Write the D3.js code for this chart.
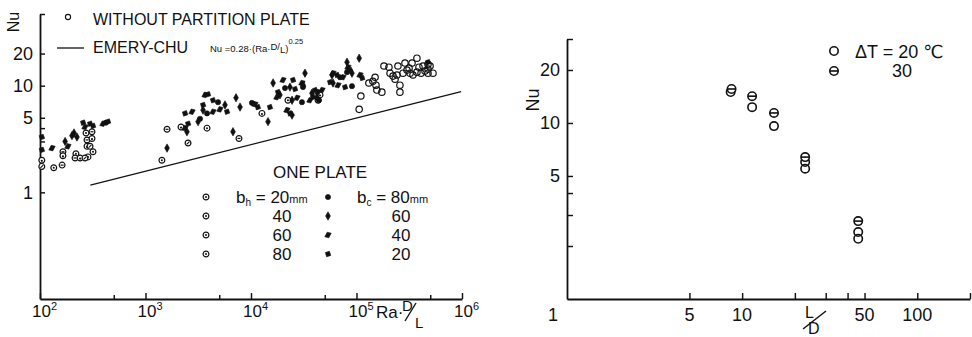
<!DOCTYPE html>
<html>
<head>
<meta charset="utf-8">
<script src="https://cdn.jsdelivr.net/npm/d3@7"></script>
<style>
  html, body { margin: 0; padding: 0; background: #fff; }
  svg { display: block; }
  text { font-family: "Liberation Sans", Arial, "DejaVu Sans", sans-serif; fill: #111; }
</style>
</head>
<body>
<svg id="fig" width="972" height="337"></svg>
<script>
// ---- Left panel: Nu against Ra·D/L ----
// Without partition plate (open circles)
const withoutPlate = [
  [110000,8.0],[106000,6.0],[131000,10.6],[143000,11.0],[150000,12.0],[153000,10.1],
  [156000,9.1],[174000,8.7],[182000,15.3],[203000,14.9],[208000,13.1],[222000,12.3],
  [232000,11.5],[242000,12.6],[247000,15.3],[258000,10.1],[258000,8.7],[276000,13.1],
  [288000,16.3],[301000,14.0],[315000,14.6],[322000,13.1],[336000,16.3],[343000,12.6],
  [374000,13.4],[374000,18.1],[391000,14.9],[409000,13.1],[427000,15.3],[446000,13.7],
  [476000,14.3],[476000,15.9],[498000,15.3],[476000,13.1],[531000,13.1]
];
// One plate, hot-side width b_h (circles with a mark inside)
const bh20 = [[273,3.6],[318,2.4],[219,2.3],[285,2.15],[135,1.7],[1430,2.0],[3830,4.0],[22400,7.3]];
const bh40 = [[311,3.7],[279,3.1],[215,2.1],[165,2.4],[162,1.8],[1600,3.9],[7690,3.2],[43200,7.3]];
const bh60 = [[311,3.2],[279,2.7],[240,2.1],[165,2.2],[104,2.0],[2170,4.1],[12700,5.5],[45100,8.2]];
const bh80 = [[298,2.7],[267,2.1],[104,1.75],[2530,2.9]];
// One plate, cold-side width b_c (filled marks)
const bc80 = [[420,4.5],[3290,4.9],[3830,5.5],[4870,7.0],[10200,6.9],[21000,9.5],[30400,7.0],
  [31100,9.7],[44100,7.3],[69800,12.0],[90600,9.9],[81300,13.4]];
const bc60 = [[173,3.0],[210,3.6],[201,3.4],[224,3.3],[1600,2.6],[2470,3.7],[3150,4.6],[3510,5.9],
  [5670,6.6],[7210,7.7],[7870,6.3],[6750,3.7],[14500,4.6],[24500,7.3],[18800,8.2],[23400,9.7],
  [37800,8.5],[42200,7.8],[24500,5.3],[16200,10.6],[32500,13.1],[58600,12.6],[59900,10.6],
  [81300,16.6],[90600,13.1],[106000,18.1]];
const bc40 = [[130,2.6],[184,2.7],[267,4.1],[395,4.4],[2370,4.0],[2760,5.7],[3670,8.2],[4360,5.7],
  [5080,6.0],[10900,6.7],[21900,5.9],[17600,7.8],[27300,7.7],[36200,7.3],[43200,8.7],[20100,11.3],
  [30400,10.6],[47100,9.1],[59900,13.1],[74500,12.0],[66800,10.1],[83000,14.9],[108000,12.6]];
const bc20 = [[104,3.3],[104,2.5],[256,4.5],[298,4.4],[318,4.2],[441,4.6],[2530,4.4],[2370,5.5],
  [3510,6.6],[3910,8.3],[4360,7.3],[5920,5.7],[11600,6.3],[15100,6.3],[23400,5.5],[18000,8.7],
  [26100,9.3],[40400,9.1],[25000,11.3],[31100,10.1],[38700,7.8],[56100,10.8],[65300,12.6],
  [77800,9.7],[86700,14.0],[113000,11.8],[476000,16.6]];
// Emery-Chu correlation, Nu = 0.28 (Ra·D/L)^0.25, end points
const emeryRa = [300, 980000];
const emeryNu = [1.17, 8.8];

const leftXTicks = [1e2,5e2,1e3,5e3,1e4,5e4,1e5,5e5,1e6];
const leftXLabels = [1e2,1e3,1e4,1e5,1e6];
const leftYTicks = [1,2,3,4,5,10,20];
const leftYLabels = [1,5,10,20];

// ---- Right panel: Nu against L/D ----
const dT20 = [[8.6,15.0],[11.4,12.3],[15.2,9.6],[22.9,6.0],[22.9,5.5],[46,2.4],[46,2.2]];
const dT30 = [[8.7,15.6],[11.4,14.2],[15.2,11.4],[22.9,6.4],[46,2.77]];
const rightXTicks = [5,10,20,30,40,50,100,200];
const rightXLabels = [1,5,10,50,100];
const rightYTicks = [2,3,4,5,10,20,30];
const rightYLabels = [5,10,20];

const svg = d3.select("#fig");
const INK = "#111";

// ---------- marker shapes ----------
const shapes = {
  bc80: "M0,-2.6A2.6,2.6 0 1,1 0,2.6A2.6,2.6 0 1,1 0,-2.6Z",
  bc60: "M0,-4.2L2.4,0L0,4.2L-2.4,0Z",
  bc40: "M-3.2,1.8L-0.8,-2.8L3.2,-1.8L0.8,2.8Z",
  bc20: "M-2.6,-1.4L1.4,-2.8L2.8,1.4L-1.4,2.8Z"
};
function drawFilled(g, data, key, x, y) {
  g.selectAll(null).data(data).join("path")
    .attr("transform", d => `translate(${x(d[0])},${y(d[1])})`)
    .attr("d", shapes[key]).attr("fill", INK).attr("stroke", INK).attr("stroke-width", 0.6);
}
function drawMarked(g, data, kind, x, y) {
  const m = g.selectAll(null).data(data).join("g")
    .attr("transform", d => `translate(${x(d[0])},${y(d[1])})`);
  m.append("circle").attr("r", 2.9).attr("fill", "#fff").attr("stroke", INK).attr("stroke-width", 1.2);
  if (kind === "bh20") m.append("circle").attr("r", 1).attr("fill", INK);
  if (kind === "bh40") m.append("line").attr("x1", -1.5).attr("x2", 1.5).attr("stroke", INK).attr("stroke-width", 1.2);
  if (kind === "bh60") m.append("circle").attr("cy", 0.6).attr("r", 1.1).attr("fill", INK);
  if (kind === "bh80") m.append("line").attr("x1", -1.4).attr("y1", 1.4).attr("x2", 1.4).attr("y2", -1.4).attr("stroke", INK).attr("stroke-width", 1.1);
}
function drawOpen(g, data, x, y, r, sw) {
  g.selectAll(null).data(data).join("circle")
    .attr("cx", d => x(d[0])).attr("cy", d => y(d[1])).attr("r", r)
    .attr("fill", "none").attr("stroke", INK).attr("stroke-width", sw);
}
function drawTheta(g, data, x, y, r, sw) {
  const m = g.selectAll(null).data(data).join("g")
    .attr("transform", d => `translate(${x(d[0])},${y(d[1])})`);
  m.append("circle").attr("r", r).attr("fill", "#fff").attr("stroke", INK).attr("stroke-width", sw);
  m.append("line").attr("x1", -r).attr("x2", r).attr("stroke", INK).attr("stroke-width", sw);
}
function styleAxis(g, w) {
  g.selectAll(".domain").attr("stroke", INK).attr("stroke-width", w);
  g.selectAll(".tick line").attr("stroke", INK).attr("stroke-width", w * 0.8);
  g.selectAll(".tick text").remove();
}

// ================= LEFT PANEL =================
const lx = d3.scaleLog().domain([1e2, 1e6]).range([40, 462]);
const ly = d3.scaleLog().domain([0.1, 47]).range([299, 14]);
const L = svg.append("g");

const lxAxis = L.append("g").attr("transform", `translate(0,${ly(0.1)})`)
  .call(d3.axisBottom(lx).tickValues(leftXTicks).tickSize(-6).tickSizeOuter(0).tickFormat(""));
styleAxis(lxAxis, 1.8);
lxAxis.selectAll(".tick line").filter(d => Math.abs(Math.log10(d) % 1) > 0.01).attr("y2", -4);

const lyAxis = L.append("g").attr("transform", `translate(${lx(1e2)},0)`)
  .call(d3.axisLeft(ly).tickValues(leftYTicks.concat([47])).tickSize(-5).tickSizeOuter(0).tickFormat(""));
styleAxis(lyAxis, 1.8);

// x tick labels: powers of ten
leftXLabels.forEach(v => {
  const t = L.append("text").attr("x", lx(v) - 8).attr("y", 317).attr("font-size", 17);
  t.append("tspan").text("10");
  t.append("tspan").attr("dy", -7).attr("font-size", 11).text(String(Math.round(Math.log10(v))));
});
// y tick labels
leftYLabels.forEach(v => {
  L.append("text").attr("x", 33).attr("y", ly(v) + 6.5).attr("text-anchor", "end")
    .attr("font-size", 18).text(v);
});
// axis titles
L.append("text").attr("transform", "translate(19,22) rotate(-90)").attr("text-anchor", "middle")
  .attr("font-size", 16).text("Nu");
const raLab = L.append("g");
raLab.append("text").attr("x", 376).attr("y", 318).attr("font-size", 17).text("Ra·");
raLab.append("text").attr("x", 402).attr("y", 311).attr("font-size", 15).text("D");
raLab.append("line").attr("x1", 405).attr("y1", 321).attr("x2", 416).attr("y2", 303)
  .attr("stroke", INK).attr("stroke-width", 1.4);
raLab.append("text").attr("x", 415).attr("y", 328).attr("font-size", 15).text("L");

// Emery-Chu line
L.append("path")
  .attr("d", d3.line()(emeryRa.map((r, i) => [lx(r), ly(emeryNu[i])])))
  .attr("stroke", INK).attr("stroke-width", 1.3).attr("fill", "none");

// data
const LD = L.append("g");
drawMarked(LD, bh20, "bh20", lx, ly);
drawMarked(LD, bh40, "bh40", lx, ly);
drawMarked(LD, bh60, "bh60", lx, ly);
drawMarked(LD, bh80, "bh80", lx, ly);
drawFilled(LD, bc80, "bc80", lx, ly);
drawFilled(LD, bc60, "bc60", lx, ly);
drawFilled(LD, bc40, "bc40", lx, ly);
drawFilled(LD, bc20, "bc20", lx, ly);
drawOpen(LD, withoutPlate, lx, ly, 3.2, 1.2);

// legend (top)
L.append("circle").attr("cx", 68).attr("cy", 17).attr("r", 2.6)
  .attr("fill", "none").attr("stroke", INK).attr("stroke-width", 1.1);
L.append("text").attr("x", 93).attr("y", 25).attr("font-size", 16).text("WITHOUT PARTITION PLATE");
L.append("line").attr("x1", 57).attr("x2", 84).attr("y1", 48).attr("y2", 48)
  .attr("stroke", INK).attr("stroke-width", 1.3);
L.append("text").attr("x", 93).attr("y", 53).attr("font-size", 16).text("EMERY-CHU");
const f = L.append("text").attr("x", 210).attr("y", 52).attr("font-size", 9.5);
f.append("tspan").text("Nu =0.28·(Ra·");
f.append("tspan").attr("dy", -2).text("D");
f.append("tspan").attr("dy", 0).text("/");
f.append("tspan").attr("dy", 3).text("L");
f.append("tspan").attr("dy", -1).text(")");
f.append("tspan").attr("dy", -8).attr("font-size", 7.5).text("0.25");

// legend (one plate)
const lg = L.append("g");
lg.append("text").attr("x", 273).attr("y", 178).attr("font-size", 17).text("ONE PLATE");
const rowsY = [197, 216, 235, 254];
const bhKeys = ["bh20", "bh40", "bh60", "bh80"];
const bcKeys = ["bc80", "bc60", "bc40", "bc20"];
bhKeys.forEach((k, i) => {
  const g = lg.append("g").attr("transform", `translate(206,${rowsY[i]})`);
  g.append("circle").attr("r", 2.9).attr("fill", "#fff").attr("stroke", INK).attr("stroke-width", 1.2);
  g.append("circle").attr("r", 1).attr("fill", INK);
});
bcKeys.forEach((k, i) => {
  lg.append("path").attr("transform", `translate(328,${rowsY[i]})`).attr("d", shapes[k])
    .attr("fill", INK).attr("stroke", INK).attr("stroke-width", 0.6);
});
const bhVals = ["20", "40", "60", "80"];
const bcVals = ["80", "60", "40", "20"];
const t1 = lg.append("text").attr("x", 236).attr("y", rowsY[0] + 6).attr("font-size", 17);
t1.append("tspan").text("b");
t1.append("tspan").attr("dy", 3).attr("font-size", 10).text("h");
t1.append("tspan").attr("dy", -3).text(" = 20");
t1.append("tspan").attr("font-size", 11).text("mm");
const t2 = lg.append("text").attr("x", 357).attr("y", rowsY[0] + 6).attr("font-size", 17);
t2.append("tspan").text("b");
t2.append("tspan").attr("dy", 3).attr("font-size", 10).text("c");
t2.append("tspan").attr("dy", -3).text(" = 80");
t2.append("tspan").attr("font-size", 11).text("mm");
for (let i = 1; i < 4; i++) {
  lg.append("text").attr("x", 282).attr("y", rowsY[i] + 6).attr("text-anchor", "middle")
    .attr("font-size", 17).text(bhVals[i]);
  lg.append("text").attr("x", 401).attr("y", rowsY[i] + 6).attr("text-anchor", "middle")
    .attr("font-size", 17).text(bcVals[i]);
}

// ================= RIGHT PANEL =================
const rx = d3.scaleLog().domain([1, 200]).range([567, 970]);
const ry = d3.scaleLog().domain([1, 30]).range([299, 39]);
const R = svg.append("g");

const rxAxis = R.append("g").attr("transform", `translate(0,${ry(1)})`)
  .call(d3.axisBottom(rx).tickValues(rightXTicks).tickSize(-6).tickSizeOuter(0).tickFormat(""));
styleAxis(rxAxis, 1.8);
const ryAxis = R.append("g").attr("transform", `translate(${rx(1)},0)`)
  .call(d3.axisLeft(ry).tickValues(rightYTicks).tickSize(-6).tickSizeOuter(0).tickFormat(""));
styleAxis(ryAxis, 1.8);

rightXLabels.forEach(v => {
  R.append("text").attr("x", rx(v) + (v === 1 ? -14 : 0)).attr("y", 321)
    .attr("text-anchor", "middle").attr("font-size", 18).text(v);
});
rightYLabels.forEach(v => {
  R.append("text").attr("x", 560).attr("y", ry(v) + 6.5).attr("text-anchor", "end")
    .attr("font-size", 18).text(v);
});
R.append("text").attr("transform", "translate(539,100) rotate(-90)").attr("text-anchor", "middle")
  .attr("font-size", 18).text("Nu");
R.append("text").attr("x", 805).attr("y", 318).attr("font-size", 16).text("L");
R.append("line").attr("x1", 803).attr("y1", 329).attr("x2", 826).attr("y2", 311)
  .attr("stroke", INK).attr("stroke-width", 1.5);
R.append("text").attr("x", 808).attr("y", 334).attr("font-size", 16).text("D");

const RD = R.append("g");
drawOpen(RD, dT20, rx, ry, 4.2, 1.6);
drawTheta(RD, dT30, rx, ry, 4.2, 1.6);

// legend
drawOpen(R, [[1, 1]], () => 834, () => 51, 4.2, 1.6);
drawTheta(R, [[1, 1]], () => 834, () => 71, 4.2, 1.6);
R.append("text").attr("x", 855).attr("y", 58).attr("font-size", 18).text("ΔT = 20 ℃");
R.append("text").attr("x", 892).attr("y", 77).attr("font-size", 18).text("30");
</script>
</body>
</html>
